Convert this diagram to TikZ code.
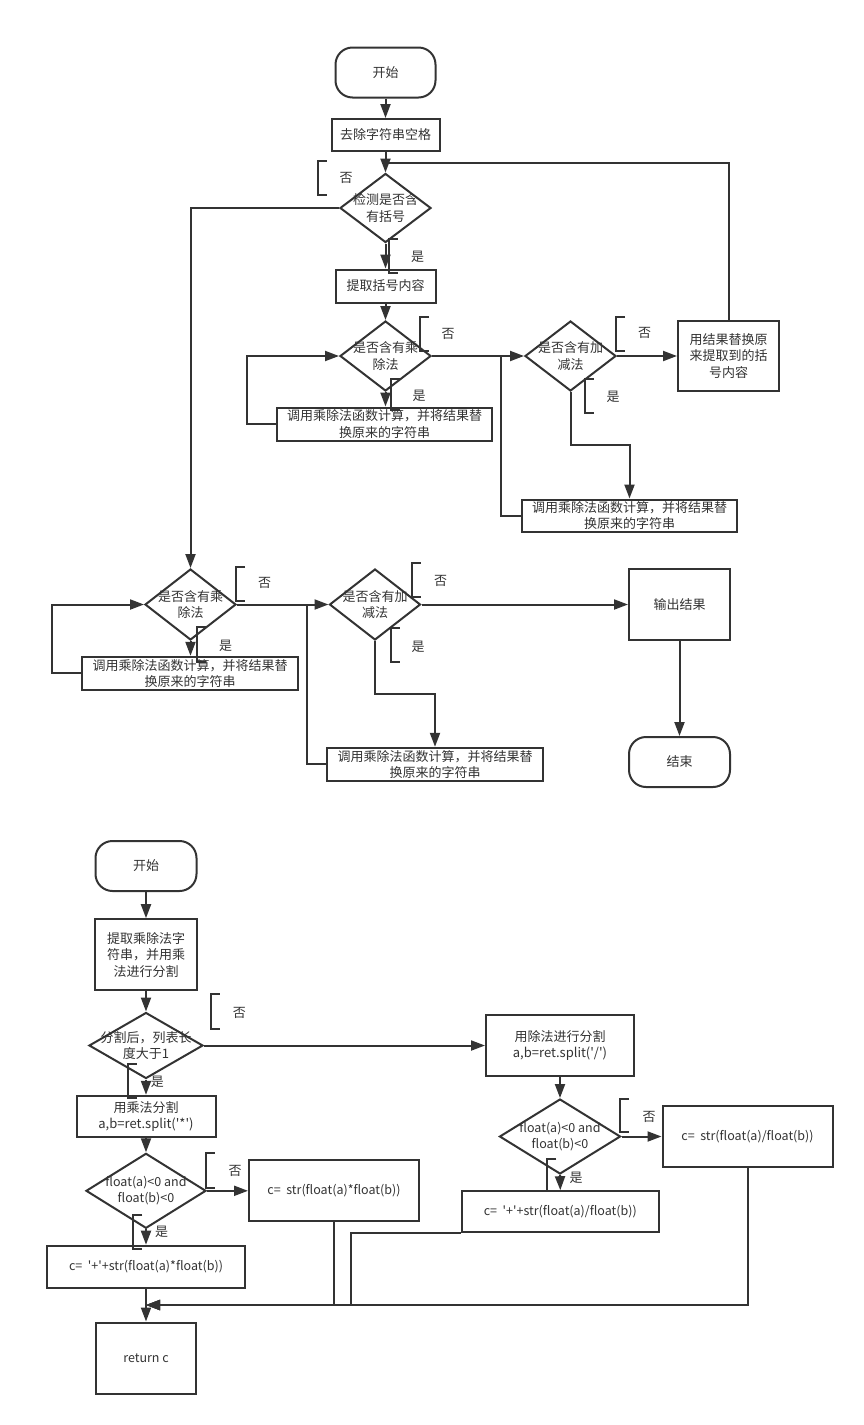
\documentclass[tikz,border=0pt]{standalone}
\usepackage{fontspec}
\setmainfont{Noto Sans CJK SC}
\usetikzlibrary{shapes.geometric,arrows.meta}
\definecolor{ink}{HTML}{333333}
\newcommand{\myq}{\textquotesingle}
\begin{document}
\begin{tikzpicture}[x=1pt,y=-1pt,
  every node/.style={text=ink, font=\fontsize{13}{16.5}\selectfont, align=center, inner sep=0pt},
  box/.style={draw=ink, line width=2pt, rectangle},
  term/.style={draw=ink, line width=2pt, rectangle, rounded corners=17pt},
  dia/.style={draw=ink, line width=2pt, shape=diamond, inner sep=0pt},
  con/.style={draw=ink, line width=2pt},
  arr/.style={-{Triangle[length=14pt,width=10pt]}},
  lat/.style={font=\fontsize{12.5}{15.5}\selectfont}
]
\fill[white] (0,0) rectangle (864,1425);
\useasboundingbox (0,0) rectangle (864,1425);

% ---------------- top chart ----------------
\node[term, minimum width=100pt, minimum height=50pt] (start1) at (385.5,72.5) {开始};
\node[box, minimum width=108pt, minimum height=32pt] (s1) at (385.5,135) {去除字符串空格};
\node[dia, minimum width=91pt, minimum height=69pt] (d1) at (385.5,208) {};
\node (t1) at (d1) {检测是否含\\有括号};
\node[box, minimum width=100pt, minimum height=33pt] (p1) at (385.5,286) {提取括号内容};
\node[dia, minimum width=91pt, minimum height=70pt] (d3) at (385.5,356) {};
\node (t3) at (d3) {是否含有乘\\除法};
\node[box, minimum width=215pt, minimum height=33pt] (b1) at (384.5,424) {调用乘除法函数计算，并将结果替\\换原来的字符串};
\node[dia, minimum width=91pt, minimum height=70pt] (d4) at (570.5,356) {};
\node (t4) at (d4) {是否含有加\\减法};
\node[box, minimum width=101pt, minimum height=70pt] (rep) at (728.5,356) {用结果替换原\\来提取到的括\\号内容};
\node[box, minimum width=215pt, minimum height=32pt] (b2) at (629.5,515.5) {调用乘除法函数计算，并将结果替\\换原来的字符串};

% ---------------- middle chart ----------------
\node[dia, minimum width=91pt, minimum height=71pt] (d5) at (190.5,604.5) {};
\node (t5) at (d5) {是否含有乘\\除法};
\node[box, minimum width=216pt, minimum height=33pt] (b3) at (190,673.3) {调用乘除法函数计算，并将结果替\\换原来的字符串};
\node[dia, minimum width=91pt, minimum height=71pt] (d6) at (375,604.5) {};
\node (t6) at (d6) {是否含有加\\减法};
\node[box, minimum width=216pt, minimum height=33pt] (b4) at (435,764.3) {调用乘除法函数计算，并将结果替\\换原来的字符串};
\node[box, minimum width=101pt, minimum height=71pt] (out) at (679.5,604.5) {输出结果};
\node[term, minimum width=101pt, minimum height=50pt] (end1) at (679.5,762) {结束};

% ---------------- bottom chart ----------------
\node[term, minimum width=101pt, minimum height=50pt] (start2) at (146,866) {开始};
\node[box, minimum width=102pt, minimum height=71pt] (p2) at (146,954.7) {提取乘除法字\\符串，并用乘\\法进行分割};
\node[dia, minimum width=114pt, minimum height=66pt] (d7) at (146,1045.5) {};
\node (t7) at (d7) {分割后，列表长\\度大于1};
\node[box, minimum width=139pt, minimum height=41pt] (b5) at (146,1116.3) {用乘法分割\\a,b=ret.split(\myq*\myq)};
\node[dia, minimum width=120pt, minimum height=75pt] (d8) at (146,1190.8) {};
\node[lat] (t8) at (d8) {float(a)<0 and\\float(b)<0};
\node[box, lat, minimum width=170pt, minimum height=61pt] (c1) at (334,1190.8) {c= \ str(float(a)*float(b))};
\node[box, lat, minimum width=198pt, minimum height=42pt] (c2) at (146,1266.7) {c= \ \myq+\myq+str(float(a)*float(b))};
\node[box, lat, minimum width=100pt, minimum height=71pt] (ret) at (146,1358) {return c};

\node[box, minimum width=148pt, minimum height=61pt] (c5) at (560,1045.5) {用除法进行分割\\a,b=ret.split(\myq/\myq)};
\node[dia, minimum width=121pt, minimum height=75pt] (d9) at (560,1136.5) {};
\node[lat] (t9) at (d9) {float(a)<0 and\\float(b)<0};
\node[box, lat, minimum width=170pt, minimum height=61pt] (c6) at (747.5,1136.5) {c= \ str(float(a)/float(b))};
\node[box, lat, minimum width=197pt, minimum height=41pt] (c4) at (560.3,1211.7) {c= \ \myq+\myq+str(float(a)/float(b))};

% ---------------- helper coordinates ----------------
\coordinate (j1) at (385.5,163);
\coordinate (k1) at (247,0);
\coordinate (k2) at (0,445);
\coordinate (k3) at (501,356);
\coordinate (k4) at (51.5,0);
\coordinate (k5) at (0,694);
\coordinate (k6) at (306.7,604.5);
\coordinate (k7) at (351,0);
\coordinate (jr) at (146,1305);

% ---------------- connectors: top ----------------
\draw[con,arr] (start1.south) -- (s1.north);
\draw[con] (rep.north) |- (j1);
\draw[con,arr] (s1.south) -- (d1.north);
\draw[con,arr] (d1.west) -| (d5.north);
\draw[con,arr] (d1.south) -- (p1.north);
\draw[con,arr] (p1.south) -- (d3.north);
\draw[con,arr] (d3.south) -- (d3.south |- b1.north);
\draw[con,arr] (b1.west) -- (b1.west -| k1) |- (d3.west);
\draw[con,arr] (d3.east) -- (d4.west);
\draw[con,arr] (d4.east) -- (rep.west);
\draw[con,arr] (d4.south) -- (d4.south |- k2) -| (b2.north);
\draw[con] (b2.west) -| (k3);

% ---------------- connectors: middle ----------------
\draw[con,arr] (d5.south) -- (d5.south |- b3.north);
\draw[con,arr] (b3.west) -- (b3.west -| k4) |- (d5.west);
\draw[con,arr] (d5.east) -- (d6.west);
\draw[con,arr] (d6.south) -- (d6.south |- k5) -| (b4.north);
\draw[con] (b4.west) -| (k6);
\draw[con,arr] (d6.east) -- (out.west);
\draw[con,arr] (out.south) -- (end1.north);

% ---------------- connectors: bottom ----------------
\draw[con,arr] (start2.south) -- (p2.north);
\draw[con,arr] (p2.south) -- (d7.north);
\draw[con,arr] (d7.east) -- (d7.east -| c5.west);
\draw[con,arr] (d7.south) -- (b5.north);
\draw[con,arr] (b5.south) -- (d8.north);
\draw[con,arr] (d8.east) -- (c1.west);
\draw[con,arr] (d8.south) -- (c2.north);
\draw[con,arr] (c2.south) -- (ret.north);
\draw[con,arr] (c1.south) |- (jr);
\draw[con,arr] (c4.south west) -- (c4.south west -| k7) |- (jr);
\draw[con,arr] (c6.south) |- (jr);
\draw[con,arr] (c5.south) -- (d9.north);
\draw[con,arr] (d9.east) -- (c6.west);
\draw[con,arr] (d9.south) -- (c4.north);

% ---------------- yes / no brackets ----------------
\foreach \bx/\ya/\yb/\lx/\ly/\lt/\nm in {
  317.7/161/195/346/178/否/n1,
  388.8/239/272.7/417.7/257/是/y1,
  420/316.7/350.7/448/334/否/n3,
  391/379/410/419/396/是/y3,
  616/316.7/350.7/644.6/333.3/否/n4,
  584.6/379/412.7/613/396.7/是/y4,
  236/566.7/600.7/264.7/583/否/n5,
  197/627/661.7/225.5/645.7/是/y5,
  411.5/562.7/596.7/440.5/580.7/否/n6,
  390.7/628/661.7/418/646.7/是/y6,
  210.7/994.3/1029/239.3/1012.7/否/n7,
  127.7/1064.3/1098.3/157.3/1082.3/是/y7,
  205.7/1153.3/1188.3/235/1171/否/n8,
  133.3/1215/1249/161.7/1232.3/是/y8,
  620/1099/1132.3/649/1116.7/否/n9,
  547.3/1159.3/1191/576/1178.3/是/y9}
{
  \draw[con] (\bx+9,\ya) -- (\bx,\ya) -- (\bx,\yb) -- (\bx+9,\yb);
  \node (\nm) at (\lx,\ly) {\lt};
}
\end{tikzpicture}
\end{document}
